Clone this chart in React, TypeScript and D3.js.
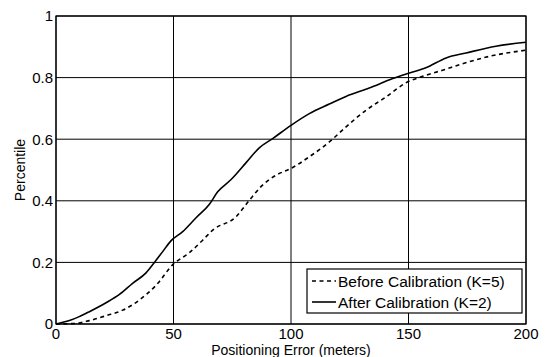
import React from "react";
import * as d3 from "d3";

const xTicks = [0, 50, 100, 150, 200];
const yTicks = [0, 0.2, 0.4, 0.6, 0.8, 1];
const yTickLabels = ["0", "0.2", "0.4", "0.6", "0.8", "1"];

const afterX = [0, 5.7, 9.9, 14.2, 21.3, 27, 32.6, 38.3, 41.8, 45.4, 48.9, 53.9, 59.6, 65.2, 68.8, 74.5, 80.9, 86.5, 92.2, 100, 107.8, 116.3, 123.4, 133.3, 143.3, 150.4, 157.4, 166, 174.5, 187.2, 200];
const afterY = [0, 0.011, 0.024, 0.04, 0.069, 0.096, 0.132, 0.166, 0.199, 0.235, 0.27, 0.3, 0.345, 0.388, 0.429, 0.469, 0.524, 0.572, 0.602, 0.645, 0.683, 0.714, 0.739, 0.766, 0.797, 0.815, 0.832, 0.864, 0.88, 0.902, 0.915];

const beforeX = [0, 8.5, 14.2, 21.3, 28.4, 35.5, 42.6, 50, 56.7, 62.4, 66.7, 76.6, 82.3, 87.9, 93.6, 100, 107.8, 116.3, 123.4, 131.9, 140.4, 148.9, 156, 164.5, 173, 184.4, 200];
const beforeY = [0, 0.002, 0.011, 0.027, 0.045, 0.078, 0.126, 0.195, 0.231, 0.272, 0.305, 0.348, 0.402, 0.451, 0.483, 0.505, 0.543, 0.591, 0.64, 0.694, 0.737, 0.783, 0.804, 0.824, 0.845, 0.869, 0.889];

const legendLabels = ["Before Calibration (K=5)", "After Calibration (K=2)"];

const W = 549, H = 357;
const L = 56, R = 526, T = 16, B = 324;
const font = "'Liberation Sans', Arial, sans-serif";

export default function App() {
  const x = d3.scaleLinear().domain([0, 200]).range([L, R]);
  const y = d3.scaleLinear().domain([0, 1]).range([B, T]);
  const line = d3.line<[number, number]>().x(d => x(d[0])).y(d => y(d[1])).curve(d3.curveMonotoneX);
  const after = afterX.map((v, i) => [v, afterY[i]] as [number, number]);
  const before = beforeX.map((v, i) => [v, beforeY[i]] as [number, number]);

  const lx = 307, ly = 269, lw = 215, lh = 44;

  return (
    <svg width={W} height={H} style={{ position: "absolute", left: 0, top: 0, background: "#fff" }}>
      <rect x={0} y={0} width={W} height={H} fill="#fff" />
      {xTicks.map(t => (
        <line key={"gx" + t} x1={x(t)} x2={x(t)} y1={T} y2={B} stroke="#000" strokeWidth={1} />
      ))}
      {yTicks.map(t => (
        <line key={"gy" + t} x1={L} x2={R} y1={y(t)} y2={y(t)} stroke="#000" strokeWidth={1} />
      ))}
      <rect x={L} y={T} width={R - L} height={B - T} fill="none" stroke="#000" strokeWidth={1.2} />
      <path d={line(before) || ""} fill="none" stroke="#000" strokeWidth={1.6} strokeDasharray="4,3.5" />
      <path d={line(after) || ""} fill="none" stroke="#000" strokeWidth={1.6} />
      {yTicks.map((t, i) => (
        <text key={"ty" + t} x={L - 3} y={y(t)} dy="0.36em" textAnchor="end" fontFamily={font} fontSize={15} fill="#000">
          {yTickLabels[i]}
        </text>
      ))}
      {xTicks.map(t => (
        <text key={"tx" + t} x={x(t)} y={339} textAnchor="middle" fontFamily={font} fontSize={15} fill="#000">
          {t}
        </text>
      ))}
      <text x={(L + R) / 2} y={355} textAnchor="middle" fontFamily={font} fontSize={14} fill="#000">
        Positioning Error (meters)
      </text>
      <text transform={`translate(25,${(T + B) / 2}) rotate(-90)`} textAnchor="middle" fontFamily={font} fontSize={14} fill="#000">
        Percentile
      </text>
      <rect x={lx} y={ly} width={lw} height={lh} fill="#fff" stroke="#000" strokeWidth={1.2} />
      <line x1={312} x2={336} y1={281} y2={281} stroke="#000" strokeWidth={1.6} strokeDasharray="4,3.5" />
      <line x1={312} x2={336} y1={302} y2={302} stroke="#000" strokeWidth={1.6} />
      <text x={338} y={281} dy="0.36em" fontFamily={font} fontSize={15.5} fill="#000">{legendLabels[0]}</text>
      <text x={338} y={302} dy="0.36em" fontFamily={font} fontSize={15.5} fill="#000">{legendLabels[1]}</text>
    </svg>
  );
}
